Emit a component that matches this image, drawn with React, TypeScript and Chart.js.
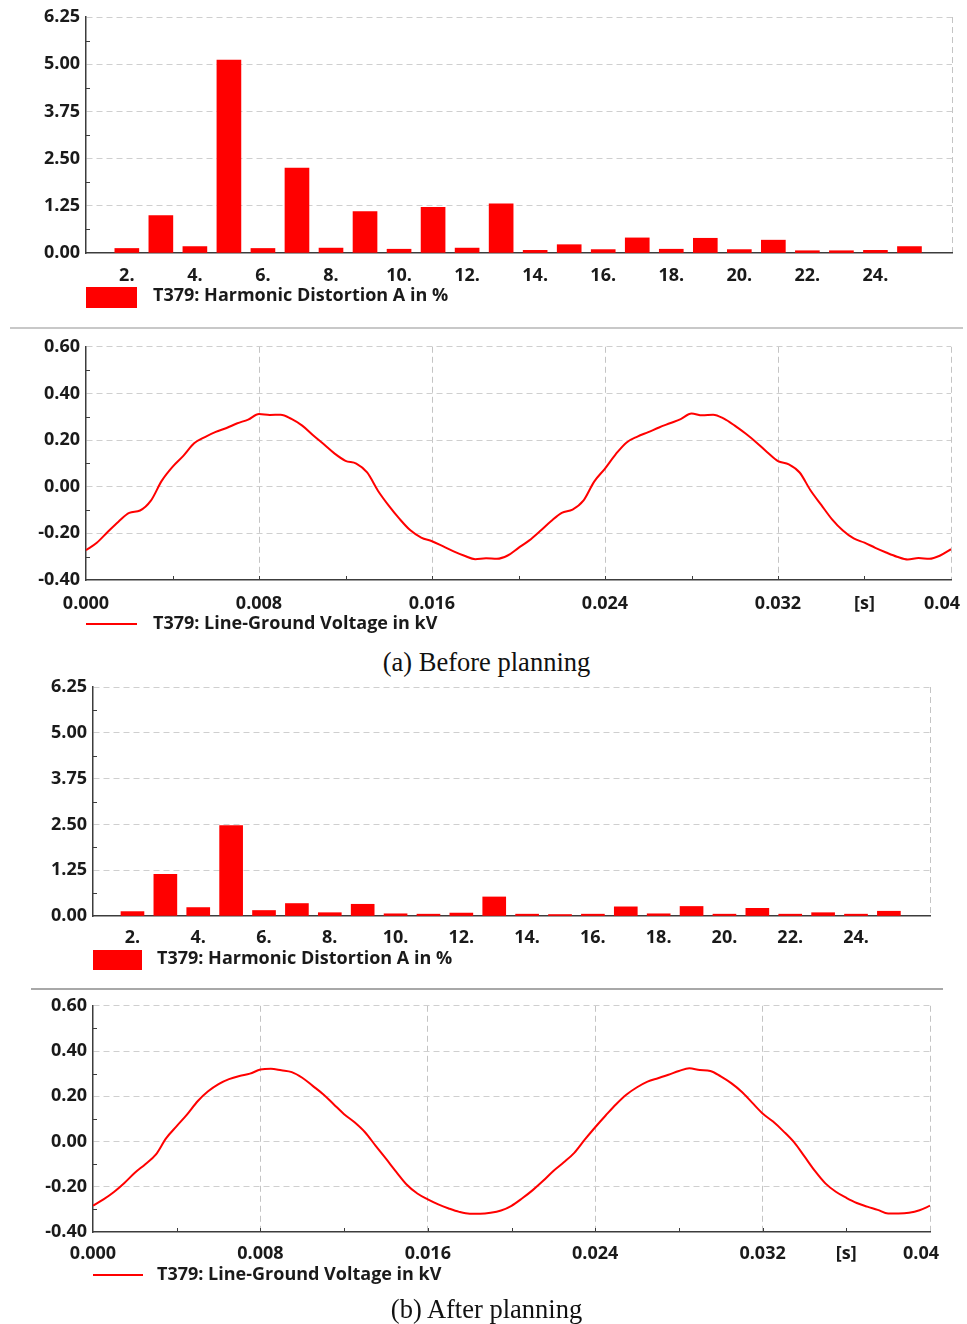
import React, { useEffect, useRef } from 'react';
import { Chart, registerables } from 'chart.js';

Chart.register(...registerables);

// ---------- data ----------
const HARMONICS = [2, 3, 4, 5, 6, 7, 8, 9, 10, 11, 12, 13, 14, 15, 16, 17, 18, 19, 20, 21, 22, 23, 24, 25];
const THD_BEFORE = [0.12, 0.99, 0.17, 5.11, 0.12, 2.25, 0.13, 1.10, 0.10, 1.21, 0.13, 1.30, 0.07, 0.22, 0.09, 0.40, 0.10, 0.39, 0.09, 0.34, 0.06, 0.06, 0.07, 0.17];
const THD_AFTER = [0.12, 1.14, 0.23, 2.47, 0.15, 0.34, 0.09, 0.32, 0.06, 0.05, 0.08, 0.52, 0.05, 0.04, 0.05, 0.25, 0.06, 0.26, 0.05, 0.21, 0.05, 0.09, 0.05, 0.13];
const HARMONIC_MIN = 0.8;
const HARMONIC_MAX = 26.25;
const HARMONIC_X_TICKS = [2, 4, 6, 8, 10, 12, 14, 16, 18, 20, 22, 24];
const PERCENT_Y_TICKS = [0, 1.25, 2.5, 3.75, 5, 6.25];
const PERCENT_Y_MINOR = [0.625, 1.875, 3.125, 4.375, 5.625];

const TIME_STEP_S = 0.0005;
const VOLTAGE_BEFORE = [
  -0.272, -0.240, -0.194, -0.150, -0.112, -0.102, -0.060, 0.025, 0.085, 0.132,
  0.186, 0.213, 0.235, 0.252, 0.272, 0.288, 0.312, 0.308, 0.309, 0.291,
  0.262, 0.221, 0.182, 0.142, 0.111, 0.099, 0.061, -0.017, -0.081, -0.138,
  -0.187, -0.218, -0.234, -0.255, -0.277, -0.296, -0.311, -0.307, -0.309, -0.295,
  -0.262, -0.230, -0.190, -0.148, -0.112, -0.098, -0.060, 0.022, 0.078, 0.140,
  0.190, 0.215, 0.234, 0.254, 0.272, 0.290, 0.314, 0.306, 0.309, 0.292,
  0.262, 0.228, 0.190, 0.148, 0.110, 0.096, 0.061, -0.015, -0.078, -0.140,
  -0.188, -0.222, -0.240, -0.262, -0.282, -0.300, -0.312, -0.306, -0.309, -0.295,
  -0.268,
];
const VOLTAGE_AFTER = [
  -0.284, -0.256, -0.223, -0.183, -0.138, -0.100, -0.058, 0.015, 0.068, 0.120,
  0.178, 0.222, 0.254, 0.276, 0.290, 0.300, 0.318, 0.322, 0.315, 0.307,
  0.282, 0.246, 0.209, 0.165, 0.121, 0.085, 0.041, -0.018, -0.076, -0.135,
  -0.191, -0.230, -0.256, -0.278, -0.296, -0.311, -0.319, -0.319, -0.315, -0.305,
  -0.284, -0.252, -0.216, -0.175, -0.130, -0.092, -0.050, 0.008, 0.063, 0.115,
  0.165, 0.208, 0.240, 0.265, 0.280, 0.295, 0.312, 0.324, 0.316, 0.312,
  0.288, 0.258, 0.220, 0.172, 0.124, 0.088, 0.045, -0.003, -0.066, -0.130,
  -0.185, -0.222, -0.249, -0.272, -0.288, -0.302, -0.318, -0.318, -0.315, -0.304,
  -0.284,
];
const TIME_MIN = 0;
const TIME_MAX = 0.04;
const TIME_X_TICKS = [0, 0.008, 0.016, 0.024, 0.032, 0.036, 0.04];
// the last label sits slightly left of the axis end in the original; the trailing em space reproduces that
const TIME_X_LABELS = ['0.000', '0.008', '0.016', '0.024', '0.032', '[s]', '0.04\u2003'];
const TIME_X_MINOR = [0.004, 0.008, 0.012, 0.016, 0.02, 0.024, 0.028, 0.032, 0.036];
const VOLT_Y_TICKS = [-0.4, -0.2, 0, 0.2, 0.4, 0.6];
const VOLT_Y_MINOR = [-0.3, -0.1, 0.1, 0.3, 0.5];

const BAR_LABEL = 'T379: Harmonic Distortion A in %';
const LINE_LABEL = 'T379: Line-Ground Voltage in kV';
const CAPTION_A = '(a) Before planning';
const CAPTION_B = '(b) After planning';

// ---------- style ----------
const RED = '#ff0000';
const TEXT = '#1a1a1a';
const AXIS = '#3c3c3c';
const GRID_H = '#cfcfcf';
const GRID_V = '#c4c4c4';
const DASH = [6, 4];
const FONT = { family: '"Open Sans", Lato, sans-serif', weight: 'bold' as const, size: 18 };

// legend swatch: a red box or a red line drawn on a small canvas (left part filled, rest empty)
function makeSwatch(kind: 'box' | 'line', slotWidth: number, markWidth: number, markHeight: number) {
  const c = document.createElement('canvas');
  c.width = slotWidth;
  c.height = kind === 'box' ? markHeight : 4;
  const g = c.getContext('2d')!;
  if (kind === 'box') {
    g.fillStyle = RED;
    g.fillRect(0, 0, markWidth, markHeight);
  } else {
    g.strokeStyle = RED;
    g.lineWidth = 2;
    g.beginPath();
    g.moveTo(0, 2);
    g.lineTo(markWidth, 2);
    g.stroke();
  }
  return c;
}

const innerTicks = {
  id: 'innerTicks',
  afterDraw(chart: any, _args: any, opts: any) {
    const { ctx, chartArea } = chart;
    const xs = chart.scales.x;
    const ys = chart.scales.y;
    ctx.save();
    ctx.strokeStyle = opts.color || AXIS;
    ctx.lineWidth = 1;
    ctx.beginPath();
    (opts.y || []).forEach((v: number) => {
      const py = Math.round(ys.getPixelForValue(v)) + 0.5;
      ctx.moveTo(chartArea.left, py);
      ctx.lineTo(chartArea.left + (opts.len || 4), py);
    });
    (opts.x || []).forEach((v: number) => {
      const px = Math.round(xs.getPixelForValue(v)) + 0.5;
      ctx.moveTo(px, chartArea.bottom);
      ctx.lineTo(px, chartArea.bottom - (opts.len || 4));
    });
    ctx.stroke();
    ctx.restore();
  },
};

type Geo = {
  yWidth: number;
  xHeight: number;
  padTop: number;
  padRight: number;
  padBottom: number;
  tickPad: number;
  slot: number;
  mark: number;
  markH: number;
};

function legendOpts(swatch: HTMLCanvasElement, slot: number) {
  return {
    position: 'bottom',
    align: 'start',
    fullSize: false,
    labels: {
      font: FONT,
      color: TEXT,
      usePointStyle: true,
      pointStyle: swatch,
      pointStyleWidth: slot,
      padding: 0,
    },
  };
}

function fitX(geo: Geo) {
  return (s: any) => {
    s.height = geo.xHeight;
    s.paddingLeft = 0;
    s.paddingRight = 0;
  };
}

function barConfig(values: number[], geo: Geo, barThickness: number) {
  return {
    type: 'bar',
    data: {
      datasets: [
        {
          label: BAR_LABEL,
          data: HARMONICS.map((h, i) => ({ x: h, y: values[i] })),
          backgroundColor: RED,
          borderWidth: 0,
          barThickness,
        },
      ],
    },
    options: {
      animation: false,
      responsive: false,
      events: [],
      layout: { padding: { left: 0, top: geo.padTop, right: geo.padRight, bottom: geo.padBottom } },
      plugins: {
        tooltip: { enabled: false },
        legend: legendOpts(makeSwatch('box', geo.slot, geo.mark, geo.markH), geo.slot),
        innerTicks: { y: PERCENT_Y_MINOR, len: 4 },
      },
      scales: {
        x: {
          type: 'linear',
          min: HARMONIC_MIN,
          max: HARMONIC_MAX,
          offset: false,
          afterBuildTicks: (s: any) => {
            s.ticks = [...HARMONIC_X_TICKS, HARMONIC_MAX].map((v) => ({ value: v }));
          },
          afterFit: fitX(geo),
          ticks: {
            font: FONT,
            color: TEXT,
            padding: geo.tickPad,
            autoSkip: false,
            maxRotation: 0,
            callback: (v: number) => (HARMONIC_X_TICKS.includes(v) ? `${v}.` : ''),
          },
          grid: {
            offset: false,
            drawTicks: false,
            lineWidth: 1,
            color: (c: any) => (c.tick && c.tick.value === HARMONIC_MAX ? GRID_V : 'transparent'),
          },
          border: { display: true, color: AXIS, width: 1.5, dash: DASH },
        },
        y: {
          min: 0,
          max: 6.25,
          afterBuildTicks: (s: any) => {
            s.ticks = PERCENT_Y_TICKS.map((v) => ({ value: v }));
          },
          afterFit: (s: any) => {
            s.width = geo.yWidth;
          },
          ticks: {
            font: FONT,
            color: TEXT,
            padding: 6,
            callback: (v: number) => Number(v).toFixed(2),
          },
          grid: {
            drawTicks: false,
            lineWidth: 1,
            color: (c: any) => (c.tick && c.tick.value === 0 ? 'transparent' : GRID_H),
          },
          border: { display: true, color: AXIS, width: 1.5, dash: DASH },
        },
      },
    },
    plugins: [innerTicks],
  };
}

function lineConfig(values: number[], geo: Geo) {
  return {
    type: 'line',
    data: {
      datasets: [
        {
          label: LINE_LABEL,
          data: values.map((v, i) => ({ x: i * TIME_STEP_S, y: v })),
          borderColor: RED,
          backgroundColor: RED,
          borderWidth: 2,
          pointRadius: 0,
          cubicInterpolationMode: 'monotone',
          fill: false,
        },
      ],
    },
    options: {
      animation: false,
      responsive: false,
      events: [],
      layout: { padding: { left: 0, top: geo.padTop, right: geo.padRight, bottom: geo.padBottom } },
      plugins: {
        tooltip: { enabled: false },
        legend: legendOpts(makeSwatch('line', geo.slot, geo.mark, geo.markH), geo.slot),
        innerTicks: { y: VOLT_Y_MINOR, x: TIME_X_MINOR, len: 4 },
      },
      scales: {
        x: {
          type: 'linear',
          min: TIME_MIN,
          max: TIME_MAX,
          afterBuildTicks: (s: any) => {
            s.ticks = TIME_X_TICKS.map((v) => ({ value: v }));
          },
          afterFit: fitX(geo),
          ticks: {
            font: FONT,
            color: TEXT,
            padding: geo.tickPad,
            autoSkip: false,
            maxRotation: 0,
            callback: (_v: number, i: number) => TIME_X_LABELS[i],
          },
          grid: {
            drawTicks: false,
            lineWidth: 1,
            color: (c: any) =>
              c.tick && (c.tick.value === 0 || c.tick.value === 0.036) ? 'transparent' : GRID_V,
          },
          border: { display: true, color: AXIS, width: 1.5, dash: DASH },
        },
        y: {
          min: -0.4,
          max: 0.6,
          afterBuildTicks: (s: any) => {
            s.ticks = VOLT_Y_TICKS.map((v) => ({ value: v }));
          },
          afterFit: (s: any) => {
            s.width = geo.yWidth;
          },
          ticks: {
            font: FONT,
            color: TEXT,
            padding: 6,
            callback: (v: number) => Number(v).toFixed(2),
          },
          grid: {
            drawTicks: false,
            lineWidth: 1,
            color: (c: any) => (c.tick && c.tick.value === -0.4 ? 'transparent' : GRID_H),
          },
          border: { display: true, color: AXIS, width: 1.5, dash: DASH },
        },
      },
    },
    plugins: [innerTicks],
  };
}

function ChartCanvas({ make, top, height }: { make: () => any; top: number; height: number }) {
  const ref = useRef<HTMLCanvasElement | null>(null);
  useEffect(() => {
    if (!ref.current) return;
    const chart = new Chart(ref.current, make());
    return () => chart.destroy();
  }, [make]);
  return (
    <canvas
      ref={ref}
      width={967}
      height={height}
      style={{ position: 'absolute', left: 0, top, width: 967, height, display: 'block' }}
    />
  );
}

const makeBarA = () =>
  barConfig(
    THD_BEFORE,
    { yWidth: 86, xHeight: 34, padTop: 17, padRight: 15, padBottom: 5, tickPad: 12, slot: 58, mark: 51, markH: 23 },
    24
  );
const makeLineA = () =>
  lineConfig(VOLTAGE_BEFORE, {
    yWidth: 86,
    xHeight: 35,
    padTop: 15,
    padRight: 16,
    padBottom: 2,
    tickPad: 13,
    slot: 58,
    mark: 51,
    markH: 4,
  });
const makeBarB = () =>
  barConfig(
    THD_AFTER,
    { yWidth: 93, xHeight: 34, padTop: 17, padRight: 37, padBottom: 2, tickPad: 11, slot: 55, mark: 49, markH: 22 },
    23
  );
const makeLineB = () =>
  lineConfig(VOLTAGE_AFTER, {
    yWidth: 93,
    xHeight: 34,
    padTop: 15,
    padRight: 37,
    padBottom: 1,
    tickPad: 11,
    slot: 55,
    mark: 50,
    markH: 4,
  });

const captionStyle: React.CSSProperties = {
  position: 'absolute',
  left: 0,
  width: 973,
  textAlign: 'center',
  fontFamily: '"Liberation Serif", "Times New Roman", serif',
  fontSize: 26.5,
  lineHeight: '26.5px',
  color: '#111',
  whiteSpace: 'nowrap',
};

export default function App() {
  return (
    <div
      style={{
        position: 'absolute',
        left: 0,
        top: 0,
        width: 967,
        height: 1324,
        background: '#fff',
        overflow: 'hidden',
      }}
    >
      <ChartCanvas make={makeBarA} top={0} height={320} />
      <div style={{ position: 'absolute', left: 10, top: 327, width: 953, height: 2, background: '#c8c8c8' }} />
      <ChartCanvas make={makeLineA} top={330} height={315} />
      <div style={{ ...captionStyle, top: 649 }}>{CAPTION_A}</div>
      <ChartCanvas make={makeBarB} top={670} height={310} />
      <div style={{ position: 'absolute', left: 31, top: 988, width: 912, height: 2, background: '#a8a8a8' }} />
      <ChartCanvas make={makeLineB} top={989} height={306} />
      <div style={{ ...captionStyle, top: 1296 }}>{CAPTION_B}</div>
    </div>
  );
}
